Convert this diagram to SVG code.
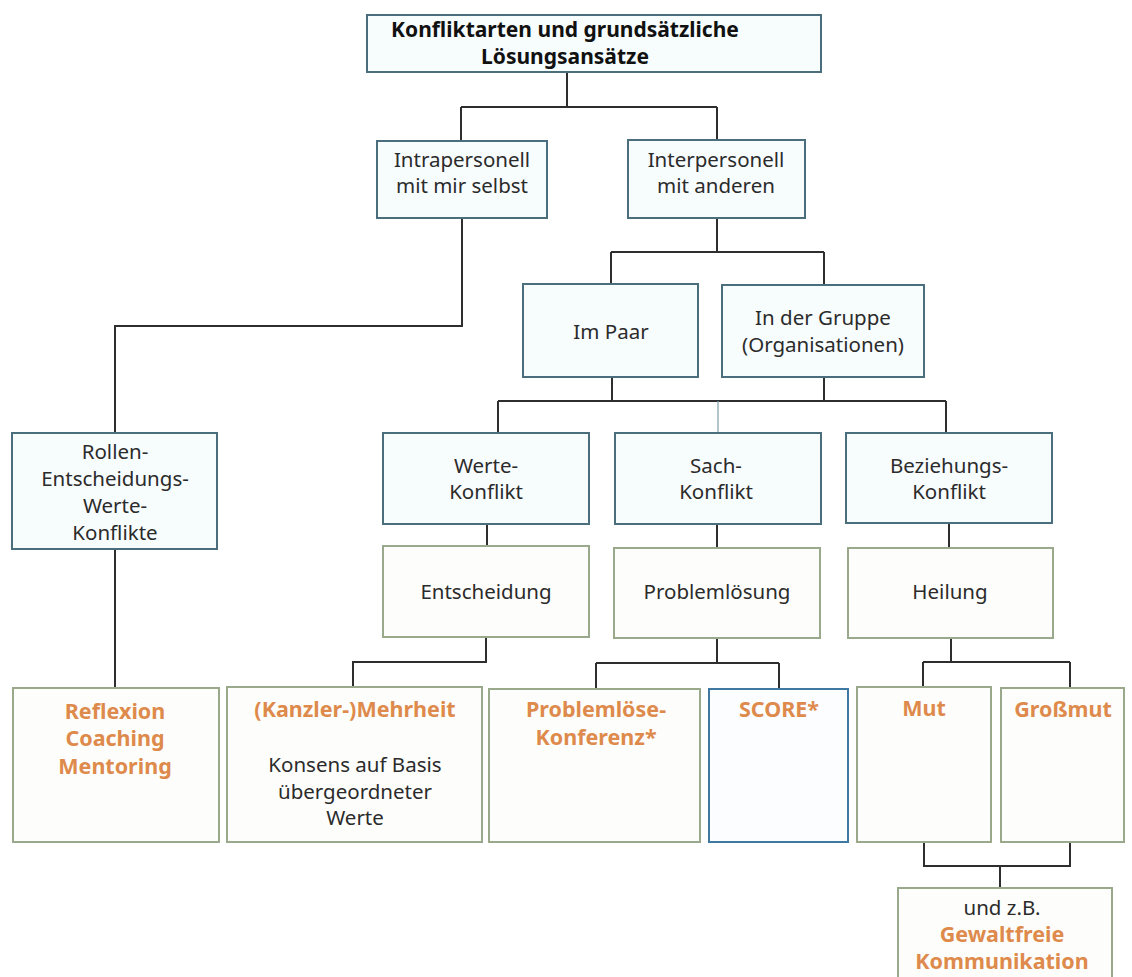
<svg xmlns="http://www.w3.org/2000/svg" width="1132" height="977" viewBox="0 0 1132 977">
<style>
.bg{fill:#ffffff}
.nb{fill:#f7fcfd;stroke:#4a6e7c;stroke-width:2}
.ng{fill:#fdfefb;stroke:#9aa88c;stroke-width:2}
.ns{fill:#fbfdfe;stroke:#3f78a0;stroke-width:2}
.t{font-family:"Noto Sans","Open Sans","DejaVu Sans",sans-serif;font-size:20.5px;fill:#2b2b2b;text-anchor:middle}
.tb{font-family:"Noto Sans","Open Sans","DejaVu Sans",sans-serif;font-size:21px;font-weight:bold;fill:#111;text-anchor:middle}
.to{font-family:"Noto Sans","Open Sans","DejaVu Sans",sans-serif;font-size:21.5px;font-weight:bold;fill:#de8a4c;text-anchor:middle}
.c{fill:none;stroke:#2e2e2e;stroke-width:2}
.cl{fill:none;stroke:#7d9caa;stroke-width:1.2}
</style>
<rect class="bg" x="0" y="0" width="1132" height="977"/>
<g id="connectors">
<path class="c" d="M567 72 V107 M461 107 H717 M461 107 V141 M717 107 V140"/>
<path class="c" d="M717 218 V252 M611 252 H824 M611 252 V284 M824 252 V285"/>
<path class="c" d="M462 218 V326 H115 V433 M115 549 V688"/>
<path class="c" d="M612 377 V401 M824 377 V401 M498 401 H946 M498 401 V433 M946 401 V433"/>
<path class="cl" d="M718 401 V433"/>
<path class="c" d="M487 524 V546 M717 524 V548 M949 523 V548"/>
<path class="c" d="M486 637 V662 H353 V687"/>
<path class="c" d="M717 638 V663 M596 663 H779 M596 663 V689 M779 663 V689"/>
<path class="c" d="M951 638 V662 M923 662 H1070 M923 662 V687 M1070 662 V688"/>
<path class="c" d="M924 842 V866 H1070 V842 M1000 866 V888"/>
</g>
<g id="n-title"><rect class="nb" x="367" y="15" width="454" height="57"/><text class="tb" x="565" y="37">Konfliktarten und grundsätzliche</text><text class="tb" x="565" y="64">Lösungsansätze</text></g>
<g id="n-intra"><rect class="nb" x="377" y="141" width="170" height="77"/><text class="t" x="462" y="167">Intrapersonell</text><text class="t" x="462" y="193">mit mir selbst</text></g>
<g id="n-inter"><rect class="nb" x="628" y="140" width="177" height="78"/><text class="t" x="716" y="167">Interpersonell</text><text class="t" x="716" y="193">mit anderen</text></g>
<g id="n-paar"><rect class="nb" x="523" y="284" width="175" height="93"/><text class="t" x="611" y="339">Im Paar</text></g>
<g id="n-gruppe"><rect class="nb" x="722" y="285" width="202" height="92"/><text class="t" x="823" y="325">In der Gruppe</text><text class="t" x="823" y="352">(Organisationen)</text></g>
<g id="n-rollen"><rect class="nb" x="12" y="433" width="205" height="116"/><text class="t" x="115" y="459">Rollen-</text><text class="t" x="115" y="486">Entscheidungs-</text><text class="t" x="115" y="513">Werte-</text><text class="t" x="115" y="540">Konflikte</text></g>
<g id="n-werte"><rect class="nb" x="383" y="433" width="206" height="91"/><text class="t" x="486" y="473">Werte-</text><text class="t" x="486" y="499">Konflikt</text></g>
<g id="n-sach"><rect class="nb" x="615" y="433" width="206" height="91"/><text class="t" x="716" y="473">Sach-</text><text class="t" x="716" y="499">Konflikt</text></g>
<g id="n-bez"><rect class="nb" x="846" y="433" width="206" height="90"/><text class="t" x="949" y="473">Beziehungs-</text><text class="t" x="949" y="499">Konflikt</text></g>
<g id="n-entsch"><rect class="ng" x="383" y="546" width="206" height="91"/><text class="t" x="486" y="599">Entscheidung</text></g>
<g id="n-problem"><rect class="ng" x="614" y="548" width="206" height="90"/><text class="t" x="717" y="599">Problemlösung</text></g>
<g id="n-heilung"><rect class="ng" x="848" y="548" width="205" height="90"/><text class="t" x="950" y="599">Heilung</text></g>
<g id="n-reflexion"><rect class="ng" x="13" y="688" width="206" height="154"/><text class="to" x="115" y="719">Reflexion</text><text class="to" x="115" y="746">Coaching</text><text class="to" x="115" y="774">Mentoring</text></g>
<g id="n-kanzler"><rect class="ng" x="227" y="687" width="255" height="155"/><text class="to" x="355" y="717">(Kanzler-)Mehrheit</text><text class="t" x="355" y="772">Konsens auf Basis</text><text class="t" x="355" y="799">übergeordneter</text><text class="t" x="355" y="825">Werte</text></g>
<g id="n-plk"><rect class="ng" x="489" y="689" width="211" height="153"/><text class="to" x="596" y="717">Problemlöse-</text><text class="to" x="596" y="745">Konferenz*</text></g>
<g id="n-score"><rect class="ns" x="709" y="689" width="139" height="153"/><text class="to" x="779" y="717">SCORE*</text></g>
<g id="n-mut"><rect class="ng" x="857" y="687" width="134" height="155"/><text class="to" x="924" y="716">Mut</text></g>
<g id="n-grossmut"><rect class="ng" x="1001" y="688" width="123" height="154"/><text class="to" x="1063" y="717">Großmut</text></g>
<g id="n-gfk"><rect class="ng" x="898" y="888" width="214" height="95"/><text class="t" x="1002" y="915">und z.B.</text><text class="to" x="1002" y="942">Gewaltfreie</text><text class="to" x="1002" y="969">Kommunikation</text></g>
</svg>
